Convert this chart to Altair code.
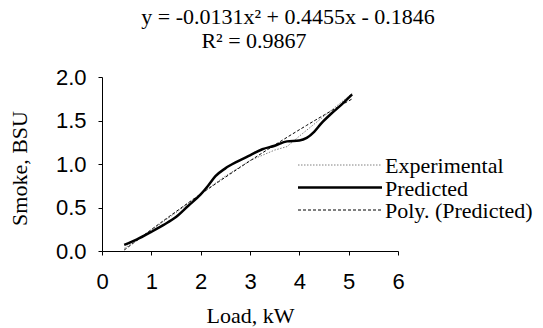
import altair as alt
import pandas as pd

# ---- data ----
load_pred = [0.45, 0.7, 1.0, 1.25, 1.5, 1.75, 2.0, 2.15, 2.3, 2.5, 2.75, 3.0,
             3.25, 3.5, 3.75, 4.0, 4.15, 4.3, 4.45, 4.65, 4.85, 5.07]
smoke_pred = [0.07, 0.13, 0.22, 0.30, 0.39, 0.52, 0.65, 0.75, 0.86, 0.95, 1.03, 1.10,
              1.17, 1.21, 1.26, 1.27, 1.30, 1.37, 1.47, 1.58, 1.68, 1.80]

load_exp = [0.45, 0.75, 1.0, 1.5, 2.0, 2.5, 3.0, 3.5, 3.75, 4.0, 4.5, 5.07]
smoke_exp = [0.03, 0.14, 0.24, 0.44, 0.66, 0.86, 1.04, 1.16, 1.20, 1.32, 1.55, 1.81]

# points
load_trend = [0.45, 1.0, 1.5, 2.0, 2.5, 3.0, 3.5, 4.0, 4.5, 5.07]
smoke_trend = [0.01, 0.25, 0.45, 0.65, 0.85, 1.04, 1.22, 1.39, 1.56, 1.75]

series_names = ["Experimental", "Predicted", "Poly. (Predicted)"]
x_ticks = [0, 1, 2, 3, 4, 5, 6]
y_ticks = [0.0, 0.5, 1.0, 1.5, 2.0]

eq_line1 = "y = -0.0131x\u00b2 + 0.4455x - 0.1846"
eq_line2 = "R\u00b2 = 0.9867"

SERIF = "Liberation Serif"
SANS = "Liberation Sans"

styles = {
    "Experimental": dict(color="#808080", strokeDash=[1.5, 1.5], strokeWidth=1),
    "Predicted": dict(color="black", strokeWidth=2.5),
    "Poly. (Predicted)": dict(color="black", strokeDash=[3, 2], strokeWidth=1),
}

df_exp = pd.DataFrame({"load": load_exp, "smoke": smoke_exp})
df_pred = pd.DataFrame({"load": load_pred, "smoke": smoke_pred})
df_trend = pd.DataFrame({"load": load_trend, "smoke": smoke_trend})

W, H = 296, 174

x_enc = alt.X("load:Q", scale=alt.Scale(domain=[0, 6], nice=False),
              axis=alt.Axis(values=x_ticks, title="Load, kW", format="d", labelFlush=False))
y_enc = alt.Y("smoke:Q", scale=alt.Scale(domain=[0, 2], nice=False),
              axis=alt.Axis(values=y_ticks, title="Smoke, BSU", format=".1f", labelFlush=False,
                            titleY=91))

exp_line = alt.Chart(df_exp).mark_line(**styles["Experimental"]).encode(x=x_enc, y=y_enc)

poly_line = alt.Chart(df_trend).transform_regression(
    "load", "smoke", method="poly", order=2
).mark_line(**styles["Poly. (Predicted)"]).encode(x=x_enc, y=y_enc)

pred_line = alt.Chart(df_pred).mark_line(interpolate="monotone", **styles["Predicted"]).encode(
    x=x_enc, y=y_enc)

ann = alt.Chart(alt.Data(values=[{}]))
eq1 = ann.mark_text(font=SERIF, fontSize=22, color="black", align="center", baseline="alphabetic").encode(
    x=alt.value(186), y=alt.value(-53), text=alt.value(eq_line1))
eq2 = ann.mark_text(font=SERIF, fontSize=22, color="black", align="center", baseline="alphabetic").encode(
    x=alt.value(152), y=alt.value(-29), text=alt.value(eq_line2))

# manual legend (inside the plot, right side)
legend_layers = []
leg_x0, leg_x1, leg_y0, leg_dy = 196, 280, 88, 22.5
for i, name in enumerate(series_names):
    yy = leg_y0 + i * leg_dy
    st = styles[name]
    legend_layers.append(
        ann.mark_rule(**st).encode(x=alt.value(leg_x0), x2=alt.value(leg_x1), y=alt.value(yy)))
    legend_layers.append(
        ann.mark_text(font=SERIF, fontSize=22, color="black", align="left", baseline="middle").encode(
            x=alt.value(leg_x1 + 3), y=alt.value(yy + 1), text=alt.value(name)))

chart = alt.layer(exp_line, poly_line, pred_line, eq1, eq2, *legend_layers).properties(
    width=W, height=H,
    autosize=alt.AutoSizeParams(type="none"),
    padding={"left": 102, "top": 77, "right": 543 - 102 - W, "bottom": 328 - 77 - H},
).configure_view(stroke=None).configure_axis(
    grid=False, domainColor="black", domainWidth=1, tickColor="black", tickSize=4,
    labelFont=SANS, labelFontSize=22, labelColor="black",
    titleFont=SERIF, titleFontSize=22, titleFontWeight="normal", titleColor="black",
).configure_axisX(labelPadding=16, titlePadding=13).configure_axisY(
    labelPadding=12, titlePadding=24
)

chart.save("out.html", embed_options={"renderer": "svg", "actions": False})
